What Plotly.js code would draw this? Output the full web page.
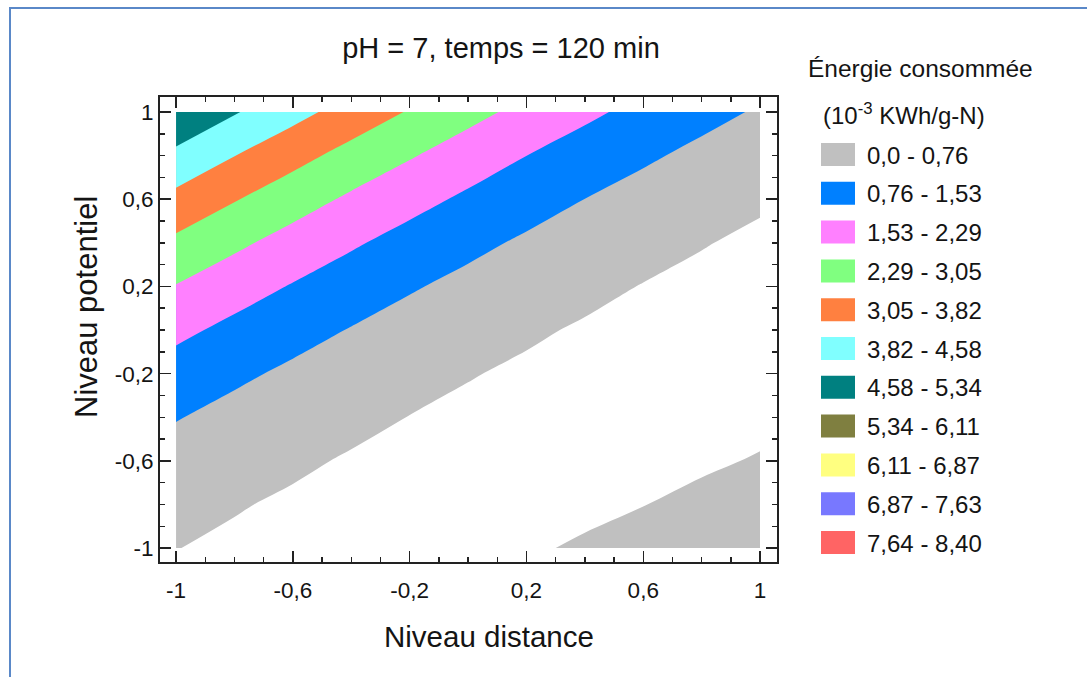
<!DOCTYPE html>
<html>
<head>
<meta charset="utf-8">
<script src="https://cdn.plot.ly/plotly-3.0.1.min.js"></script>
<style>html,body{margin:0;padding:0;background:#fff;}#chart{width:1087px;height:677px;}</style>
</head>
<body>
<div id="chart"></div>
<script>
// Grid coordinates (coded levels)
const distanceLevels = [-1, -0.8, -0.6, -0.4, -0.2, 0, 0.2, 0.4, 0.6, 0.8, 1];
const potentielLevels = [-1, -0.8, -0.6, -0.4, -0.2, 0, 0.2, 0.4, 0.6, 0.8, 1];
// Energy consumed (10^-3 KWh/g-N), one row per potentiel level
const energyRows = [
  [0.01, -0.10, -0.16, -0.19, -0.18, -0.14, -0.06, 0.06, 0.21, 0.40, 0.63],
  [0.19, 0.04, -0.08, -0.16, -0.20, -0.21, -0.18, -0.11, -0.01, 0.13, 0.30],
  [0.46, 0.25, 0.09, -0.05, -0.14, -0.20, -0.22, -0.21, -0.16, -0.08, 0.04],
  [0.80, 0.54, 0.32, 0.14, -0.01, -0.12, -0.20, -0.24, -0.24, -0.21, -0.14],
  [1.21, 0.90, 0.63, 0.40, 0.20, 0.03, -0.09, -0.19, -0.24, -0.26, -0.24],
  [1.70, 1.34, 1.02, 0.73, 0.48, 0.26, 0.08, -0.06, -0.17, -0.24, -0.27],
  [2.26, 1.85, 1.48, 1.14, 0.83, 0.57, 0.33, 0.14, -0.02, -0.14, -0.23],
  [2.90, 2.44, 2.01, 1.62, 1.26, 0.94, 0.66, 0.41, 0.20, 0.03, -0.11],
  [3.61, 3.10, 2.62, 2.17, 1.77, 1.40, 1.06, 0.76, 0.50, 0.27, 0.08],
  [4.40, 3.83, 3.30, 2.80, 2.35, 1.92, 1.53, 1.18, 0.87, 0.59, 0.35],
  [5.26, 4.64, 4.06, 3.51, 3.00, 2.52, 2.08, 1.68, 1.31, 0.98, 0.69]
];
const legendLabels = ['0,0 - 0,76', '0,76 - 1,53', '1,53 - 2,29', '2,29 - 3,05', '3,05 - 3,82',
  '3,82 - 4,58', '4,58 - 5,34', '5,34 - 6,11', '6,11 - 6,87', '6,87 - 7,63', '7,64 - 8,40'];
const legendColors = ['#c0c0c0', '#0080ff', '#ff80ff', '#80ff80', '#ff8040', '#80ffff',
  '#008080', '#7f7f40', '#ffff80', '#7878ff', '#ff6464'];
const levelMin = 0.0;
const levelMax = 8.40;
const levelCount = 11;
const tickVals = [-1, -0.6, -0.2, 0.2, 0.6, 1];
const tickText = ['-1', '-0,6', '-0,2', '0,2', '0,6', '1'];

const step = (levelMax - levelMin) / levelCount;
// band colours: background, below-zero band (white), then legend bands, then above-max
const bandColors = ['#ffffff', '#ffffff'].concat(legendColors, [legendColors[legendColors.length - 1]]);
const nb = bandColors.length - 1;
const colorscale = [];
bandColors.forEach((c, k) => {
  colorscale.push([Math.max(0, (k - 0.5) / nb), c]);
  colorscale.push([Math.min(1, (k + 0.5) / nb), c]);
});

const W = 1087, H = 677;
const L = 160, R = 777, T = 97, B = 562;
const px = v => (v - L) / (R - L);
const py = v => (B - v) / (B - T);

const FONT = 'Liberation Sans, Arial, sans-serif';
const TXT = '#141414';

const trace = {
  type: 'contour',
  x: distanceLevels,
  y: potentielLevels,
  z: energyRows,
  autocontour: false,
  contours: { start: levelMin - step, end: levelMax, size: step, coloring: 'fill', showlines: false },
  line: { width: 0, smoothing: 1 },
  colorscale: colorscale,
  showscale: false,
  hoverinfo: 'skip'
};

const shapes = [];
const annotations = [];
legendLabels.forEach((lab, k) => {
  const top = 143 + k * 38.8;
  shapes.push({ type: 'rect', xref: 'paper', yref: 'paper', x0: px(821), x1: px(855), y0: py(top + 23), y1: py(top),
    fillcolor: legendColors[k], line: { width: 0 } });
  annotations.push({ xref: 'paper', yref: 'paper', x: px(865), y: py(top + 12), xanchor: 'left', yanchor: 'middle',
    text: lab, showarrow: false, font: { family: FONT, size: 24, color: TXT } });
});
annotations.push({ xref: 'paper', yref: 'paper', x: px(806), y: py(69), xanchor: 'left', yanchor: 'middle',
  text: 'Énergie consommée', showarrow: false, font: { family: FONT, size: 24.5, color: TXT } });
annotations.push({ xref: 'paper', yref: 'paper', x: px(821), y: py(114), xanchor: 'left', yanchor: 'middle',
  text: '(10<sup>-3</sup> KWh/g-N)', showarrow: false, font: { family: FONT, size: 24, color: TXT } });
annotations.push({ xref: 'paper', yref: 'paper', x: px(489), y: py(636), xanchor: 'center', yanchor: 'middle',
  text: 'Niveau distance', showarrow: false, font: { family: FONT, size: 29.5, color: TXT } });
annotations.push({ xref: 'paper', yref: 'paper', x: px(86), y: py(307), xanchor: 'center', yanchor: 'middle',
  text: 'Niveau potentiel', textangle: -90, showarrow: false, font: { family: FONT, size: 31, color: TXT } });
// outer frame (left and top edges visible)
shapes.push({ type: 'rect', xref: 'paper', yref: 'paper', x0: px(10), x1: px(1110), y0: py(700), y1: py(8),
  fillcolor: 'rgba(0,0,0,0)', line: { color: '#5a88c8', width: 2 }, layer: 'below' });

const axisCommon = {
  showgrid: false, zeroline: false, showline: true, linecolor: '#222', linewidth: 2, mirror: 'ticks',
  ticks: 'inside', ticklen: 11, tickwidth: 1.5, tickcolor: '#222',
  tickmode: 'array', tickvals: tickVals, ticktext: tickText,
  tickfont: { family: FONT, size: 22.5, color: TXT },
  minor: { ticks: 'inside', ticklen: 5, tickwidth: 1.5, tickcolor: '#222', dtick: 0.1, tick0: 0, showgrid: false },
  fixedrange: true
};

const layout = {
  width: W, height: H,
  margin: { l: L, r: W - R, t: T, b: H - B, pad: 0 },
  paper_bgcolor: '#ffffff', plot_bgcolor: '#ffffff',
  showlegend: false,
  title: { text: 'pH = 7, temps = 120 min', font: { family: FONT, size: 29, color: TXT },
    x: 501 / W, xref: 'container', xanchor: 'center', y: 1 - 48 / H, yref: 'container', yanchor: 'middle' },
  xaxis: Object.assign({}, axisCommon, { range: [-1.055, 1.058], ticklabelstandoff: 7 }),
  yaxis: Object.assign({}, axisCommon, { range: [-1.064, 1.069] }),
  shapes: shapes,
  annotations: annotations
};

Plotly.newPlot('chart', [trace], layout, { staticPlot: true, displayModeBar: false });
</script>
</body>
</html>
